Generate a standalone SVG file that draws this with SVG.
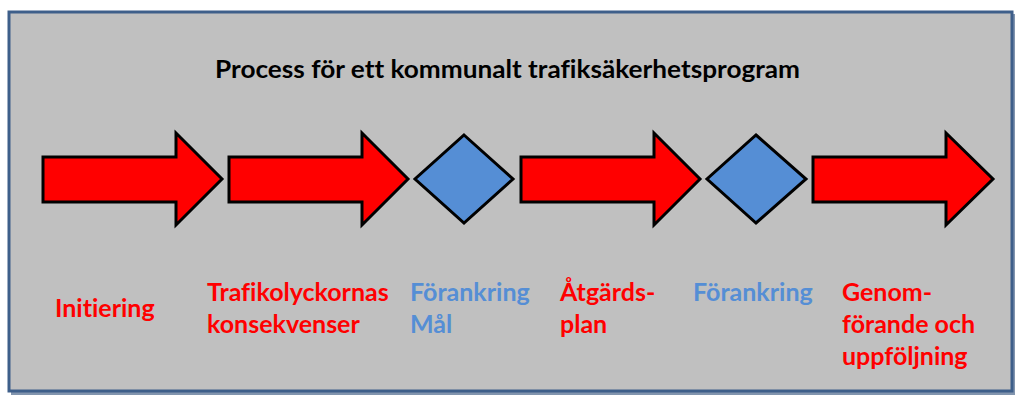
<svg xmlns="http://www.w3.org/2000/svg" width="1023" height="405" viewBox="0 0 1023 405">
<style>
.arrow{fill:#FF0000;stroke:#000;stroke-width:3;stroke-linejoin:miter}
.dia{fill:#558ED5;stroke:#000;stroke-width:3;stroke-linejoin:miter}
.lbl{font-family:Lato,"Open Sans","Liberation Sans",sans-serif;font-weight:bold;font-size:25px;font-variant-ligatures:none}
.red{fill:#FF0000}
.blue{fill:#558ED5}
.title{font-family:Lato,"Open Sans","Liberation Sans",sans-serif;font-weight:bold;font-size:25px;fill:#000;font-variant-ligatures:none}
</style>
<rect x="0" y="0" width="1023" height="405" fill="#FFFFFF"/>
<g id="frame">
<rect x="11" y="14" width="1004" height="381" fill="#2F4F78" opacity="0.6"/>
<rect x="9" y="12" width="1003" height="379" fill="#C0C0C0" stroke="#3E5F8A" stroke-width="3"/>
</g>
<g id="title"><text class="title" x="215" y="78" textLength="585" lengthAdjust="spacingAndGlyphs">Process för ett kommunalt trafiksäkerhetsprogram</text></g>
<g id="n1"><polygon class="arrow" points="43,157 176,157 176,133 222,179 176,225 176,202 43,202"/><text class="lbl red" x="55" y="317">Initiering</text></g>
<g id="n2"><polygon class="arrow" points="229,157 362,157 362,133 408,179 362,225 362,202 229,202"/><text class="lbl red" x="207" y="301">Trafikolyckornas<tspan x="207" y="333">konsekvenser</tspan></text></g>
<g id="n3"><polygon class="dia" points="464,135 513,179 464,223 415,179"/><text class="lbl blue" x="410" y="301">Förankring<tspan x="410" y="333">Mål</tspan></text></g>
<g id="n4"><polygon class="arrow" points="521,157 654,157 654,133 700,179 654,225 654,202 521,202"/><text class="lbl red" x="560" y="301">Åtgärds-<tspan x="560" y="333">plan</tspan></text></g>
<g id="n5"><polygon class="dia" points="756,135 806,179 756,223 707,179"/><text class="lbl blue" x="693" y="301">Förankring</text></g>
<g id="n6"><polygon class="arrow" points="813,157 946,157 946,133 993,179 946,225 946,202 813,202"/><text class="lbl red" x="842" y="301">Genom-<tspan x="842" y="333">förande och</tspan><tspan x="842" y="365">uppföljning</tspan></text></g>
<g id="connectors"/>
</svg>
